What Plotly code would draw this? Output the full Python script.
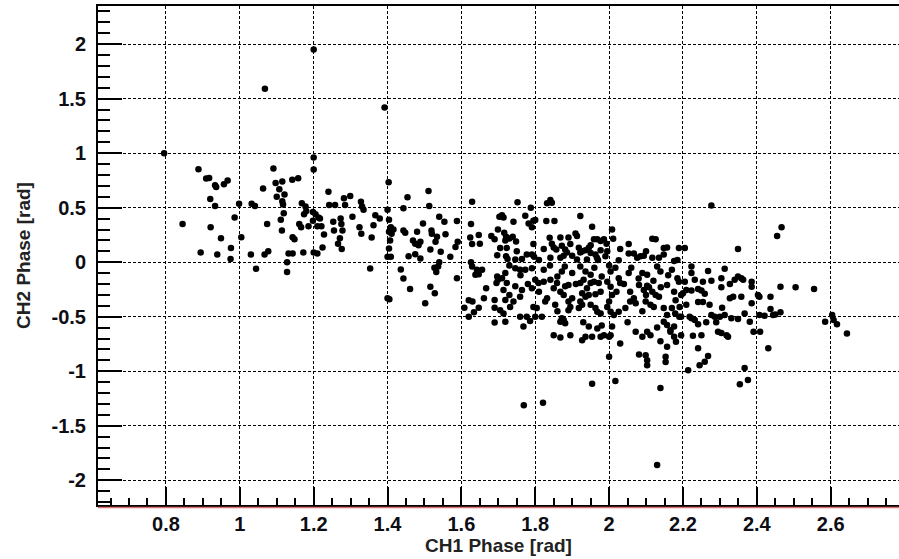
import plotly.graph_objects as go

# ---- data ----
# sparse upper-left cloud (x 0.8-1.22)
x_a = [0.795, 0.888, 0.909, 0.917, 0.933, 0.936, 0.957, 0.967, 0.92, 0.933, 0.845, 0.921, 0.949, 0.976,
       0.894, 0.939, 0.975, 0.986, 1.004, 0.998, 1.03, 1.067, 1.077, 1.032, 1.041, 1.063, 1.091, 1.097,
       1.115, 1.107, 1.121, 1.10, 1.115, 1.117, 1.142, 1.158, 1.074, 1.111, 1.119, 1.114, 1.143, 1.148,
       1.132, 1.143, 1.172, 1.161, 1.166, 1.168, 1.178, 1.18, 1.174, 1.186, 1.2, 1.2, 1.198, 1.205,
       1.198, 1.21, 1.2, 1.21, 1.128, 1.213, 1.068, 1.2, 1.392, 1.044, 1.128]
y_a = [1.0, 0.853, 0.767, 0.773, 0.705, 0.69, 0.715, 0.75, 0.58, 0.515, 0.35, 0.32, 0.22, 0.13,
       0.09, 0.07, 0.03, 0.41, 0.23, 0.537, 0.07, 0.07, 0.10, 0.537, 0.515, 0.675, 0.86, 0.727,
       0.74, 0.67, 0.62, 0.60, 0.56, 0.53, 0.757, 0.77, 0.35, 0.39, 0.45, 0.29, 0.23, 0.21,
       0.08, 0.08, 0.09, 0.35, 0.32, 0.54, 0.51, 0.47, 0.44, 0.33, 0.96, 0.85, 0.46, 0.44,
       0.38, 0.33, 0.09, 0.08, 0.0, 0.41, 1.59, 1.95, 1.42, -0.061, -0.09]

# middle cloud above zero (x 1.22-1.70)
x_b = [1.24, 1.242, 1.258, 1.282, 1.299, 1.285, 1.328, 1.331, 1.335, 1.217, 1.221, 1.253, 1.273, 1.275,
       1.255, 1.278, 1.228, 1.305, 1.324, 1.329, 1.362, 1.367, 1.379, 1.357, 1.271, 1.266, 1.224, 1.276,
       1.403, 1.40, 1.404, 1.409, 1.416, 1.404, 1.411, 1.407, 1.404, 1.40, 1.409, 1.443, 1.454, 1.511,
       1.513, 1.443, 1.448, 1.48, 1.469, 1.475, 1.484, 1.489, 1.496, 1.519, 1.52, 1.54, 1.554, 1.534,
       1.557, 1.516, 1.53, 1.544, 1.57, 1.584, 1.59, 1.588, 1.457, 1.475, 1.489, 1.629, 1.626, 1.624,
       1.629, 1.647, 1.65, 1.681, 1.69, 1.699, 1.703, 1.697, 1.626, 1.54]
y_b = [0.647, 0.525, 0.525, 0.586, 0.607, 0.525, 0.555, 0.51, 0.48, 0.40, 0.33, 0.37, 0.40, 0.35,
       0.29, 0.29, 0.255, 0.417, 0.32, 0.26, 0.34, 0.43, 0.40, 0.227, 0.22, 0.17, 0.135, 0.12,
       0.733, 0.48, 0.39, 0.32, 0.30, 0.28, 0.26, 0.20, 0.125, 0.05, 0.05, 0.494, 0.595, 0.653,
       0.515, 0.29, 0.27, 0.28, 0.20, 0.17, 0.156, 0.187, 0.356, 0.29, 0.26, 0.417, 0.37, 0.233,
       0.257, 0.116, 0.187, 0.095, 0.05, 0.14, 0.187, 0.377, 0.055, 0.073, 0.033, 0.555, 0.35, 0.227,
       0.166, 0.25, 0.17, 0.24, 0.21, 0.30, 0.417, 0.064, 0.0, 0.0]

# middle cloud below zero (x 1.35-1.70)
x_c = [1.353, 1.436, 1.443, 1.461, 1.40, 1.405, 1.502, 1.516, 1.528, 1.532, 1.527, 1.537, 1.588,
       1.629, 1.642, 1.656, 1.638, 1.647, 1.697, 1.699, 1.695, 1.667, 1.661, 1.62, 1.63, 1.608,
       1.647, 1.634, 1.62, 1.69, 1.69, 1.69]
y_c = [-0.057, -0.066, -0.15, -0.245, -0.33, -0.34, -0.377, -0.224, -0.285, -0.09, -0.05, -0.04, -0.147,
       -0.04, -0.07, -0.07, -0.116, -0.11, -0.13, -0.16, -0.19, -0.24, -0.33, -0.35, -0.36, -0.417,
       -0.417, -0.46, -0.5, -0.347, -0.417, -0.552]

# dense cloud above zero (x 1.70-2.20)
x_d = [1.752, 1.788, 1.71, 1.714, 1.741, 1.773, 1.782, 1.791, 1.795, 1.80, 1.832, 1.841, 1.845, 1.83,
       1.852, 1.922, 1.954, 2.008, 1.716, 1.721, 1.73, 1.739, 1.719, 1.748, 1.705, 1.723, 1.721, 1.725,
       1.746, 1.764, 1.777, 1.791, 1.797, 1.795, 1.823, 1.839, 1.845, 1.85, 1.857, 1.868, 1.89, 1.872,
       1.881, 1.895, 1.841, 1.868, 1.877, 1.886, 1.909, 1.913, 1.918, 1.927, 1.922, 1.936, 1.945, 1.95,
       1.959, 1.968, 1.977, 1.986, 1.993, 1.95, 1.963, 1.977, 1.995, 1.99, 1.913, 1.94, 1.967, 2.011,
       2.026, 2.053, 2.053, 2.067, 2.076, 2.085, 2.094, 2.117, 2.126, 2.117, 2.135, 2.148, 2.148, 2.157,
       2.189, 2.176, 2.185, 2.277, 2.467, 2.455, 2.205, 2.349,
       1.75, 1.81, 1.90, 2.03, 2.10, 1.97]
y_d = [0.55, 0.50, 0.43, 0.41, 0.37, 0.426, 0.356, 0.32, 0.38, 0.387, 0.54, 0.57, 0.546, 0.377,
       0.377, 0.423, 0.325, 0.30, 0.27, 0.233, 0.218, 0.233, 0.20, 0.19, 0.13, 0.13, 0.055, 0.03,
       0.025, 0.03, 0.07, 0.07, 0.05, 0.166, 0.12, 0.224, 0.17, 0.135, 0.117, 0.227, 0.227, 0.15,
       0.117, 0.166, 0.04, 0.04, 0.06, 0.09, 0.264, 0.24, 0.132, 0.10, 0.09, 0.11, 0.132, 0.155,
       0.21, 0.21, 0.194, 0.21, 0.17, 0.085, 0.07, 0.11, 0.10, 0.055, 0.025, 0.025, 0.04, 0.215,
       0.018, 0.166, 0.08, 0.08, 0.04, 0.055, 0.06, 0.215, 0.21, 0.04, 0.04, 0.07, 0.13, 0.135,
       0.13, 0.01, 0.02, 0.52, 0.32, 0.24, 0.13, 0.12,
       0.10, 0.02, 0.06, 0.12, 0.10, 0.02]

# dense cloud below zero (x 1.70-2.20)
x_e = [1.719, 1.71, 1.746, 1.759, 1.773, 1.791, 1.80, 1.823, 1.872, 1.90, 1.922, 1.936, 1.95, 2.004,
       2.017, 2.053, 2.09, 2.103, 2.13, 2.139, 2.17, 2.185, 2.189,
       1.723, 1.746, 1.764, 1.714, 1.719, 1.741, 1.759, 1.791, 1.809, 1.823, 1.841, 1.859, 1.85, 1.868,
       1.877, 1.881, 1.89, 1.90, 1.922, 1.931, 1.95, 1.959, 1.972, 1.927, 1.936, 1.945, 1.963, 1.977,
       1.995, 2.004, 2.008, 2.026, 2.03, 2.057, 2.067, 2.057, 2.081, 2.094, 2.103, 2.108, 2.117, 2.126,
       2.135, 2.157, 2.176, 2.044,
       1.705, 1.714, 1.732, 1.719, 1.759, 1.777, 1.768, 1.786, 1.80, 1.795, 1.804, 1.818, 1.827, 1.832,
       1.854, 1.872, 1.877, 1.881, 1.868, 1.89, 1.895, 1.89, 1.918, 1.927, 1.922, 1.95, 1.963, 1.968,
       1.977, 1.995, 2.0, 2.004, 2.013, 2.026, 2.072, 2.099, 2.112, 2.121, 2.148, 2.157, 2.17, 2.179,
       2.148, 2.157, 2.166, 2.176,
       1.85, 1.868, 1.895, 1.927, 1.936, 1.945, 1.954, 1.968, 1.977, 1.986, 2.004, 2.0, 2.008, 2.03,
       2.072, 2.09, 2.103, 2.112, 2.139, 2.166, 2.157, 2.176, 2.181,
       2.0, 2.081, 2.099, 2.103, 2.103, 2.153, 2.153, 1.954, 2.017, 2.139, 1.769, 1.821, 2.13,
       1.73, 1.76, 1.78, 1.84, 1.86, 1.88, 1.91, 1.94, 1.96, 1.98, 2.00, 2.02, 2.04, 2.06, 2.08,
       2.10, 2.12, 2.14, 2.16, 2.18, 1.73, 1.81, 1.86, 1.93, 1.98, 2.05, 2.09, 2.13, 2.19]
y_e = [-0.10, -0.147, -0.055, -0.07, -0.07, -0.055, -0.16, -0.07, -0.085, -0.10, -0.04, -0.085, -0.116, -0.085,
       -0.05, -0.10, -0.10, -0.116, -0.04, -0.085, -0.07, -0.147, -0.18,
       -0.19, -0.22, -0.255, -0.255, -0.347, -0.36, -0.316, -0.24, -0.19, -0.18, -0.16, -0.19, -0.24, -0.27,
       -0.30, -0.22, -0.21, -0.33, -0.19, -0.16, -0.19, -0.18, -0.19, -0.285, -0.316, -0.30, -0.294, -0.27,
       -0.18, -0.224, -0.30, -0.147, -0.19, -0.27, -0.33, -0.36, -0.21, -0.255, -0.215, -0.23, -0.27, -0.30,
       -0.316, -0.21, -0.27, -0.42,
       -0.44, -0.47, -0.41, -0.546, -0.50, -0.50, -0.59, -0.54, -0.50, -0.41, -0.42, -0.50, -0.36, -0.33,
       -0.39, -0.515, -0.53, -0.56, -0.546, -0.36, -0.41, -0.44, -0.42, -0.39, -0.36, -0.39, -0.42, -0.454,
       -0.47, -0.41, -0.36, -0.454, -0.485, -0.454, -0.377, -0.36, -0.39, -0.41, -0.42, -0.485, -0.42, -0.47,
       -0.546, -0.577, -0.623, -0.59,
       -0.67, -0.69, -0.67, -0.715, -0.684, -0.59, -0.684, -0.607, -0.684, -0.67, -0.67, -0.684, -0.59, -0.745,
       -0.638, -0.684, -0.638, -0.67, -0.724, -0.638, -0.776, -0.684, -0.73,
       -0.868, -0.847, -0.853, -0.90, -0.945, -0.868, -0.915, -1.114, -1.09, -1.154, -1.313, -1.29, -1.86,
       -0.03, -0.12, -0.20, -0.03, -0.13, -0.04, -0.20, -0.24, -0.05, -0.13, -0.03, -0.27, -0.20, -0.05, -0.15,
       -0.30, -0.17, -0.23, -0.12, -0.35, -0.30, -0.27, -0.45, -0.55, -0.58, -0.55, -0.45, -0.60, -0.50]

# right cloud below zero (x 2.19-2.65)
x_f = [2.223, 2.223, 2.268, 2.313, 2.205, 2.232, 2.254, 2.277, 2.209, 2.223, 2.25, 2.259, 2.241, 2.304,
       2.304, 2.327, 2.349, 2.358, 2.363, 2.34, 2.386, 2.386, 2.195, 2.20, 2.327, 2.336, 2.358, 2.407,
       2.403, 2.437, 2.464, 2.505, 2.555, 2.209, 2.241, 2.254, 2.272, 2.306, 2.386, 2.437, 2.45, 2.464,
       2.191, 2.195, 2.218, 2.223, 2.232, 2.277, 2.286, 2.30, 2.313, 2.331, 2.349, 2.263, 2.29, 2.241,
       2.367, 2.381, 2.407, 2.421, 2.444, 2.585, 2.604, 2.608, 2.617, 2.644, 2.195, 2.227, 2.25, 2.295,
       2.304, 2.322, 2.318, 2.391, 2.409, 2.241, 2.431, 2.268, 2.259, 2.245, 2.214, 2.367, 2.376, 2.354]
y_f = [-0.04, -0.10, -0.08, -0.06, -0.18, -0.16, -0.18, -0.17, -0.255, -0.26, -0.26, -0.29, -0.245, -0.147,
       -0.23, -0.20, -0.13, -0.147, -0.16, -0.16, -0.18, -0.224, -0.30, -0.285, -0.33, -0.316, -0.316, -0.316,
       -0.30, -0.316, -0.224, -0.23, -0.245, -0.39, -0.365, -0.365, -0.39, -0.417, -0.377, -0.43, -0.48, -0.46,
       -0.41, -0.50, -0.50, -0.515, -0.53, -0.485, -0.50, -0.50, -0.485, -0.515, -0.52, -0.55, -0.55, -0.57,
       -0.47, -0.546, -0.485, -0.49, -0.485, -0.546, -0.485, -0.53, -0.57, -0.654, -0.67, -0.675, -0.67, -0.638,
       -0.65, -0.684, -0.67, -0.638, -0.638, -0.79, -0.79, -0.86, -0.914, -0.945, -0.99, -0.97, -1.08, -1.12]

# tick labels
x_tick_vals = [0.8, 1.0, 1.2, 1.4, 1.6, 1.8, 2.0, 2.2, 2.4, 2.6]
x_tick_text = ["0.8", "1", "1.2", "1.4", "1.6", "1.8", "2", "2.2", "2.4", "2.6"]
y_tick_vals = [-2, -1.5, -1, -0.5, 0, 0.5, 1, 1.5, 2]
y_tick_text = ["-2", "-1.5", "-1", "-0.5", "0", "0.5", "1", "1.5", "2"]
x_title = "CH1 Phase [rad]"
y_title = "CH2 Phase [rad]"

# ---- assemble ----
xs = x_a + x_b + x_c + x_d + x_e + x_f
ys = y_a + y_b + y_c + y_d + y_e + y_f

X_RANGE = [0.616, 2.785]
Y_RANGE = [-2.227, 2.350]

fig = go.Figure()
fig.add_trace(go.Scatter(
    x=xs, y=ys, mode="markers",
    marker=dict(color="black", size=6.5, line=dict(width=0)),
    showlegend=False, hoverinfo="skip",
))

FONT = "Liberation Sans, Arial, Helvetica, sans-serif"
tick_font = dict(family=FONT, size=20, color="#0d0d14", weight="bold")
title_font = dict(family=FONT, size=19, color="#222222", weight="bold")

def bold(items):
    return ["<b>%s</b>" % t for t in items]

grid_common = dict(showgrid=True, gridcolor="black", gridwidth=1, griddash="3px,2px")

fig.update_layout(
    width=899, height=559,
    margin=dict(l=98, r=0, t=6, b=54),
    paper_bgcolor="white", plot_bgcolor="white",
    font=dict(family=FONT),
    xaxis=dict(
        range=X_RANGE, tickmode="array", tickvals=x_tick_vals, ticktext=bold(x_tick_text),
        showline=True, linecolor="black", linewidth=2, mirror=True,
        ticks="inside", ticklen=18, tickwidth=2, tickcolor="black",
        minor=dict(dtick=0.05, tick0=0.8, ticklen=7, tickwidth=2, tickcolor="black", ticks="inside", showgrid=False),
        zeroline=False, tickfont=tick_font, ticklabelstandoff=0,
        title=dict(text="<b>%s</b>" % x_title, font=title_font, standoff=2),
        **grid_common,
    ),
    yaxis=dict(
        range=Y_RANGE, tickmode="array", tickvals=y_tick_vals, ticktext=bold(y_tick_text),
        showline=True, linecolor="black", linewidth=2, mirror=False,
        ticks="inside", ticklen=24, tickwidth=2, tickcolor="black",
        minor=dict(dtick=0.1, tick0=0, ticklen=12, tickwidth=2, tickcolor="black", ticks="inside", showgrid=False),
        zeroline=False, tickfont=tick_font, ticklabelstandoff=6,
        title=dict(text="<b>%s</b>" % y_title, font=title_font, standoff=16),
        **grid_common,
    ),
    shapes=[dict(type="line", xref="paper", yref="paper", x0=0, x1=1, y0=-0.005, y1=-0.005,
                 line=dict(color="#e07070", width=1.5))],
)

fig.write_html("out.html")
